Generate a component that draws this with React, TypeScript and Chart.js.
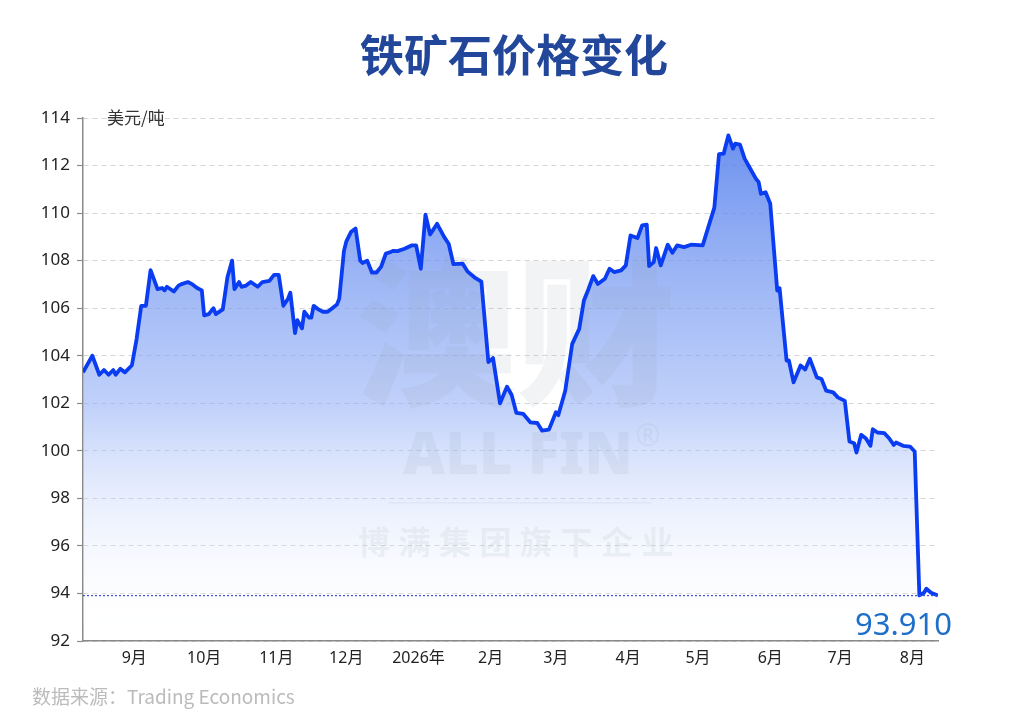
import { useEffect, useRef } from 'react';
import { Chart, registerables } from 'chart.js';

Chart.register(...registerables);

// days counted from 2025-08-10
const dayOffsets = [
  0, 4, 7, 9, 11, 13, 14, 16, 18, 21, 23, 25, 27, 29, 32, 34, 35, 36, 39, 41,
  42, 45, 47, 49, 51, 52, 54, 56, 57, 60, 62, 64, 65, 67, 68, 70, 72, 75, 77, 80,
  82, 84, 86, 88, 89, 91, 92, 94, 95, 97, 98, 99, 101, 103, 105, 107, 109, 110, 112, 113,
  115, 117, 119, 120, 122, 124, 126, 128, 130, 132, 133, 135, 138, 141, 143, 145, 147, 149, 152, 155,
  157, 159, 163, 165, 168, 171, 174, 176, 179, 182, 184, 186, 189, 192, 195, 197, 200, 203, 204, 207,
  210, 213, 215, 217, 219, 221, 224, 226, 228, 231, 233, 235, 238, 240, 242, 243, 245, 246, 248, 251,
  253, 255, 258, 261, 266, 269, 271, 273, 275, 277, 279, 280, 282, 284, 286, 289, 290, 291, 293, 295,
  298, 299, 302, 303, 305, 308, 310, 312, 315, 317, 319, 322, 324, 327, 329, 331, 332, 334, 336, 338,
  339, 341, 344, 346, 348, 349, 352, 355, 357, 359, 361, 362, 364, 367,
];

const prices = [
  103.3, 104.0, 103.2, 103.4, 103.2, 103.4, 103.2, 103.45, 103.3, 103.6, 104.7, 106.1, 106.1, 107.6, 106.8, 106.85, 106.75, 106.9, 106.7, 106.95,
  107.0, 107.1, 107.0, 106.85, 106.75, 105.7, 105.75, 106.0, 105.75, 105.95, 107.3, 108.0, 106.8, 107.1, 106.9, 106.95, 107.1, 106.9, 107.1, 107.15,
  107.4, 107.4, 106.1, 106.4, 106.65, 104.95, 105.5, 105.15, 105.85, 105.6, 105.6, 106.1, 105.95, 105.85, 105.85, 106.0, 106.15, 106.4, 108.4, 108.8,
  109.2, 109.35, 108.0, 107.9, 108.0, 107.5, 107.5, 107.75, 108.3, 108.36, 108.41, 108.4, 108.5, 108.64, 108.64, 107.66, 109.93, 109.1, 109.55, 109.0,
  108.7, 107.85, 107.87, 107.55, 107.3, 107.12, 103.73, 103.9, 102.0, 102.7, 102.35, 101.6, 101.55, 101.2, 101.17, 100.85, 100.89, 101.62, 101.5, 102.53,
  104.5, 105.13, 106.32, 106.81, 107.35, 107.02, 107.24, 107.66, 107.52, 107.59, 107.8, 109.06, 108.95, 109.48, 109.51, 107.77, 107.94, 108.53, 107.8, 108.67,
  108.33, 108.64, 108.57, 108.67, 108.64, 109.6, 110.23, 112.48, 112.5, 113.27, 112.71, 112.92, 112.88, 112.29, 111.94, 111.42, 111.31, 110.81, 110.88, 110.39,
  106.74, 106.84, 103.8, 103.8, 102.88, 103.59, 103.42, 103.87, 103.09, 103.02, 102.53, 102.46, 102.25, 102.1, 100.39, 100.32, 99.93, 100.67, 100.53, 100.21,
  100.91, 100.77, 100.74, 100.53, 100.25, 100.35, 100.21, 100.18, 99.97, 93.92, 94.03, 94.2, 94.03, 93.91,
];

const monthTickDays = [22, 52, 83, 113, 144, 175, 203, 234, 264, 295, 325, 356];
const monthTickLabels = ['9月', '10月', '11月', '12月', '2026年', '2月', '3月', '4月', '5月', '6月', '7月', '8月'];

const lastPrice = 93.91;
const lastPriceLabel = '93.910';

const FONT = '"Noto Sans", "Noto Sans CJK SC", sans-serif';
const CJK = '"Noto Sans CJK SC", sans-serif';

const decorPlugin = {
  id: 'decor',
  beforeDatasetDraw(chart: any) {
    // faint watermark
    const { ctx } = chart;
    ctx.save();
    ctx.fillStyle = 'rgba(150, 160, 180, 0.13)';
    ctx.textAlign = 'center';
    ctx.textBaseline = 'middle';
    ctx.font = `900 160px ${CJK}`;
    ctx.fillText('澳财', 516, 332);
    ctx.font = `900 58px ${FONT}`;
    ctx.fillText('ALL FIN', 518, 457);
    ctx.font = `400 30px ${FONT}`;
    ctx.fillText('®', 648, 437);
    ctx.fillRect(388, 502, 264, 1.5);
    ctx.font = `700 32px ${CJK}`;
    const wm = '博满集团旗下企业';
    for (let i = 0; i < wm.length; i++) {
      ctx.fillText(wm[i], 374 + i * 40.5, 542);
    }
    ctx.restore();
  },
  afterDatasetsDraw(chart: any) {
    const { ctx, chartArea, scales } = chart;
    const y = scales.y.getPixelForValue(lastPrice);
    ctx.save();
    ctx.strokeStyle = '#3a4fd0';
    ctx.lineWidth = 1.2;
    ctx.setLineDash([2, 2]);
    ctx.beginPath();
    ctx.moveTo(chartArea.left, y);
    ctx.lineTo(chartArea.right, y);
    ctx.stroke();
    ctx.setLineDash([]);

    ctx.fillStyle = '#1d6fc9';
    ctx.font = `400 31px ${FONT}`;
    ctx.textAlign = 'right';
    ctx.textBaseline = 'alphabetic';
    ctx.fillText(lastPriceLabel, 952, 635);

    ctx.fillStyle = '#333';
    ctx.font = `400 17px ${CJK}`;
    ctx.textAlign = 'left';
    ctx.textBaseline = 'middle';
    ctx.fillText('美元/吨', 107, chartArea.top);
    ctx.restore();
  },
  afterDraw(chart: any) {
    const { ctx } = chart;
    ctx.save();
    ctx.fillStyle = '#22479a';
    ctx.font = `700 44px ${CJK}`;
    ctx.textAlign = 'center';
    ctx.textBaseline = 'middle';
    ctx.fillText('铁矿石价格变化', 514, 55);

    ctx.fillStyle = '#bbbbbb';
    ctx.font = `400 19px ${CJK}`;
    ctx.textAlign = 'left';
    ctx.fillText('数据来源：Trading Economics', 32, 697);
    ctx.restore();
  },
};

export default function App() {
  const canvasRef = useRef<HTMLCanvasElement>(null);

  useEffect(() => {
    const canvas = canvasRef.current;
    if (!canvas) return;

    const chart = new Chart(canvas, {
      type: 'line',
      data: {
        datasets: [
          {
            data: dayOffsets.map((d, i) => ({ x: d, y: prices[i] })),
            borderColor: '#0a3cf2',
            borderWidth: 3.8,
            borderJoinStyle: 'round',
            pointRadius: 0,
            tension: 0,
            fill: 'start',
            backgroundColor: (context: any) => {
              const { ctx, chartArea } = context.chart;
              if (!chartArea) return 'rgba(80,125,235,0.5)';
              const g = ctx.createLinearGradient(0, chartArea.top, 0, chartArea.bottom);
              g.addColorStop(0, 'rgba(75, 120, 235, 0.85)');
              g.addColorStop(0.55, 'rgba(140, 170, 245, 0.55)');
              g.addColorStop(1, 'rgba(255, 255, 255, 0)');
              return g;
            },
          },
        ],
      },
      options: {
        animation: false,
        responsive: true,
        maintainAspectRatio: false,
        layout: { padding: { top: 118, right: 86, left: 0, bottom: 0 } },
        plugins: {
          legend: { display: false },
          tooltip: { enabled: false },
          title: { display: false },
        },
        scales: {
          x: {
            type: 'linear',
            min: 0,
            max: 367,
            afterBuildTicks: (scale: any) => {
              scale.ticks = monthTickDays.map((v) => ({ value: v }));
            },
            afterFit: (scale: any) => {
              scale.height = 86;
            },
            ticks: {
              autoSkip: false,
              maxRotation: 0,
              padding: 8,
              color: '#222',
              font: { size: 16, family: FONT },
              callback: (value: any) => monthTickLabels[monthTickDays.indexOf(value)] ?? '',
            },
            grid: { display: false, drawTicks: false },
            border: { display: true, color: '#8a8a8a', width: 1.5 },
          },
          y: {
            min: 92,
            max: 114,
            afterFit: (scale: any) => {
              scale.width = 83;
            },
            ticks: {
              stepSize: 2,
              padding: 7,
              color: '#222',
              font: { size: 17, family: FONT },
            },
            grid: {
              color: '#d6d6d6',
              lineWidth: 1,
              tickLength: 6,
              tickColor: '#8a8a8a',
              tickWidth: 1.2,
            },
            border: { display: true, color: '#8a8a8a', width: 1.5, dash: [5, 4] },
          },
        },
      },
      plugins: [decorPlugin],
    });

    return () => chart.destroy();
  }, []);

  return (
    <div style={{ position: 'fixed', left: 0, top: 0, width: 1024, height: 727, background: '#fff' }}>
      <canvas ref={canvasRef} />
    </div>
  );
}
